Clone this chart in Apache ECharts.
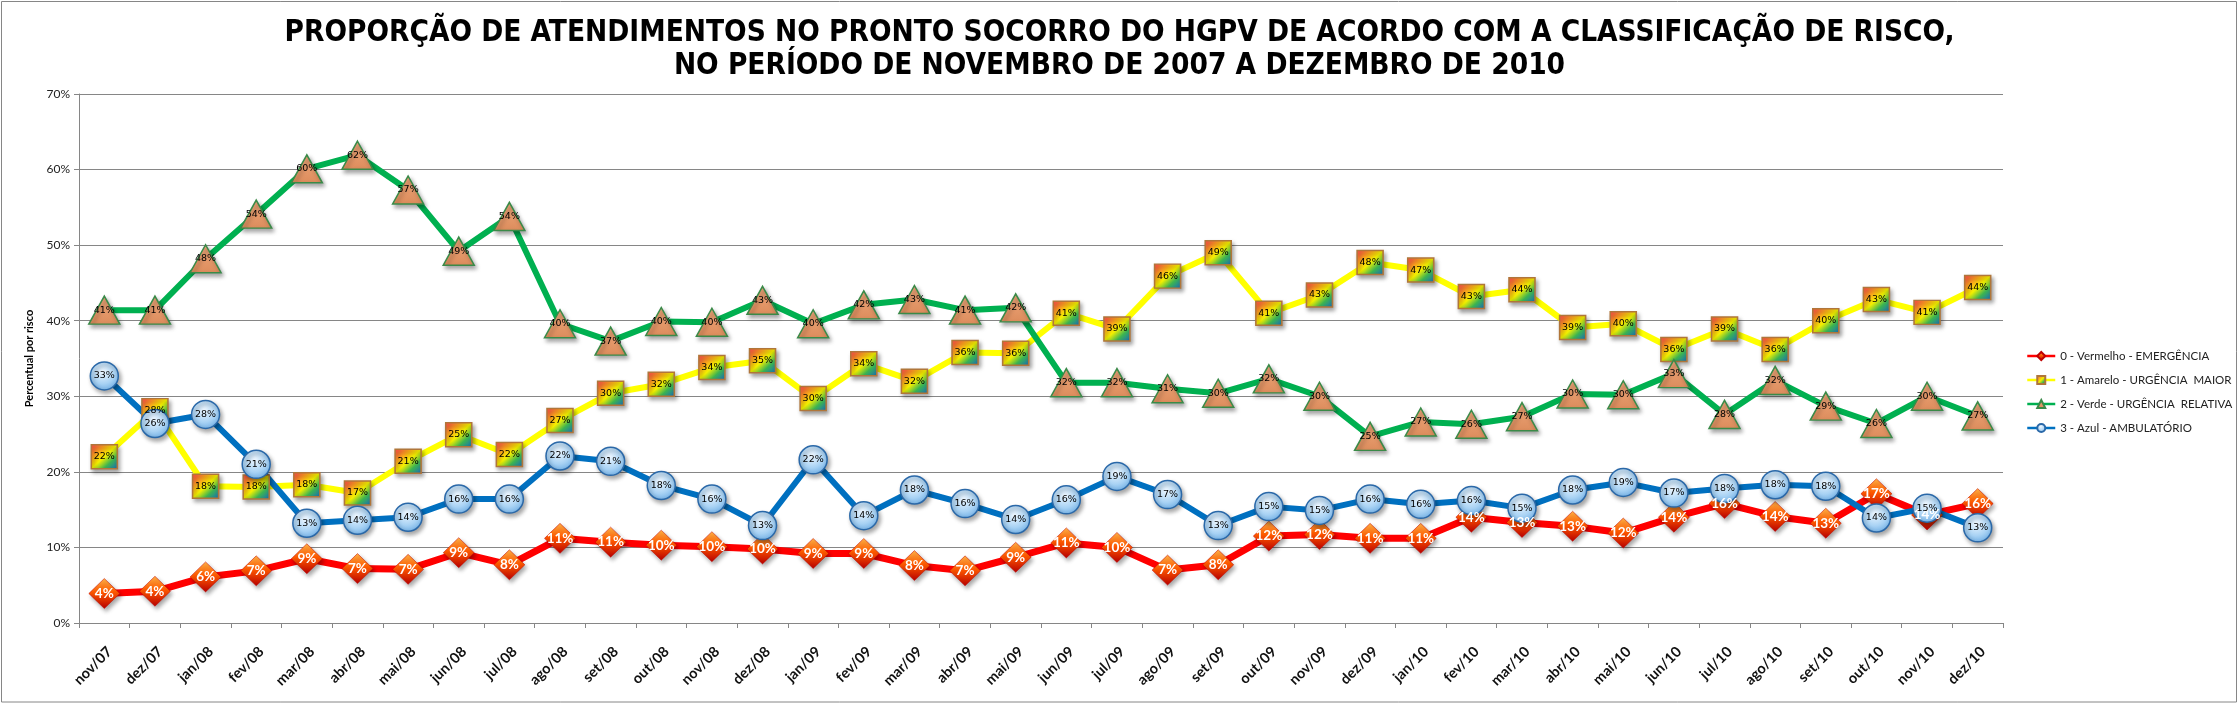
<!DOCTYPE html>
<html>
<head>
<meta charset="utf-8">
<script src="https://cdn.jsdelivr.net/npm/echarts@6/dist/echarts.min.js"></script>
<style>
  html, body { margin: 0; padding: 0; background: #fff; }
  #chart { width: 2239px; height: 704px; }
</style>
</head>
<body>
<div id="chart"></div>
<script>
// meses de nov/07 a dez/10
const categories = [
  'nov/07','dez/07',
  'jan/08','fev/08','mar/08','abr/08','mai/08','jun/08','jul/08','ago/08','set/08','out/08','nov/08','dez/08',
  'jan/09','fev/09','mar/09','abr/09','mai/09','jun/09','jul/09','ago/09','set/09','out/09','nov/09','dez/09',
  'jan/10','fev/10','mar/10','abr/10','mai/10','jun/10','jul/10','ago/10','set/10','out/10','nov/10','dez/10'
];

// percentuais por classificação de risco
const vermelho = [3.9,4.2,6.1,6.9,8.5,7.2,7.1,9.3,7.7,11.2, 10.7,10.3,10.1,9.8,9.2,9.2,7.6,6.9,8.7,10.6,
  10.0,7.0,7.7,11.5,11.7,11.2,11.2,14.0,13.3,12.8,11.9, 14.0,15.8,14.1,13.2,17.1,14.3,15.8];
const amarelo = [22.0,28.1,18.1,18.0,18.3,17.2,21.4,24.9,22.3,26.8, 30.4,31.6,33.8,34.7,29.7,34.3,32.0,35.8,35.7,41.0,
  38.9,45.9,49.0,41.0,43.4,47.7,46.7,43.2,44.1,39.1,39.6, 36.2,38.9,36.2,40.0,42.8,41.1,44.4];
const verde = [41.4,41.4,48.2,54.1,60.1,61.9,57.3,49.2,53.8,39.6, 37.3,39.9,39.8,42.7,39.6,42.1,42.8,41.4,41.7,31.8,
  31.8,31.0,30.4,32.3,30.0,24.7,26.6,26.3,27.3,30.3,30.2, 33.0,27.6,32.1,28.7,26.4,30.0,27.4];
const azul = [32.7,26.4,27.6,21.0,13.2,13.6,14.0,16.4,16.4,22.1, 21.4,18.2,16.4,12.9,21.6,14.2,17.6,15.8,13.7,16.3,
  19.4,17.0,12.9,15.4,14.9,16.4,15.7,16.2,15.2,17.6,18.6, 17.2,17.8,18.3,18.1,13.9,15.2,12.6];

const seriesNames = [
  '0 - Vermelho - EMERGÊNCIA',
  '1 - Amarelo - URGÊNCIA  MAIOR',
  '2 - Verde - URGÊNCIA  RELATIVA',
  '3 - Azul - AMBULATÓRIO'
];

// eixo Y: 0% a 70%
const yMin = 0, yMax = 70, yStep = 10;

const chart = echarts.init(document.getElementById('chart'));

const shadow = {
  shadowColor: 'rgba(0,0,0,0.35)',
  shadowBlur: 4,
  shadowOffsetX: 2,
  shadowOffsetY: 3
};

const pct = (p) => Math.round(p.value) + '%';

const smallLabel = {
  show: true,
  position: 'inside',
  formatter: pct,
  fontFamily: 'DejaVu Sans',
  fontSize: 9.5,
  color: '#000'
};

const option = {
  backgroundColor: '#fff',
  animation: false,
  title: {
    text: 'PROPORÇÃO DE ATENDIMENTOS NO PRONTO SOCORRO DO HGPV DE ACORDO COM A CLASSIFICAÇÃO DE RISCO,\nNO PERÍODO DE NOVEMBRO DE 2007 A DEZEMBRO DE 2010',
    left: 'center',
    top: 12,
    textStyle: {
      fontFamily: '"Liberation Sans Narrow", "DejaVu Sans Condensed", sans-serif',
      fontWeight: 'bold',
      fontSize: 29.5,
      lineHeight: 33,
      color: '#000',
      align: 'center'
    }
  },
  graphic: [{
    type: 'rect',
    silent: true,
    z: -1,
    shape: { x: 1.5, y: 1.5, width: 2235, height: 700.5 },
    style: { fill: 'none', stroke: '#868686', lineWidth: 1 }
  }],
  legend: {
    orient: 'vertical',
    left: 2021,
    top: 345,
    itemWidth: 28,
    itemHeight: 10,
    itemGap: 12,
    data: seriesNames,
    lineStyle: { width: 2.5 },
    textStyle: { fontFamily: 'Lato', fontSize: 11.5, color: '#222' }
  },
  grid: { left: 79, right: 236, top: 94, bottom: 81 },
  xAxis: {
    type: 'category',
    data: categories,
    boundaryGap: true,
    axisLine: { lineStyle: { color: '#868686', width: 1 } },
    axisTick: { show: true, length: 5, lineStyle: { color: '#868686' } },
    axisLabel: {
      interval: 0,
      rotate: 45,
      margin: 21,
      verticalAlign: 'top',
      fontFamily: 'Lato',
      fontWeight: 'bold',
      fontSize: 14.5,
      color: '#111'
    }
  },
  yAxis: {
    type: 'value',
    min: yMin,
    max: yMax,
    interval: yStep,
    name: 'Percentual por risco',
    nameLocation: 'middle',
    nameRotate: 90,
    nameGap: 44,
    nameTextStyle: { fontFamily: 'Lato', fontWeight: 'bold', fontSize: 11, color: '#000' },
    axisLine: { show: true, lineStyle: { color: '#868686', width: 1 } },
    axisTick: { show: true, length: 5, lineStyle: { color: '#868686' } },
    splitLine: { lineStyle: { color: '#868686', width: 1 } },
    axisLabel: {
      margin: 9,
      formatter: (v) => v + '%',
      fontFamily: 'Lato',
      fontSize: 12,
      color: '#222'
    }
  },
  series: [
    {
      name: seriesNames[0],
      type: 'line',
      data: vermelho,
      symbol: 'diamond',
      symbolSize: [31, 30],
      lineStyle: { color: '#ff0000', width: 7 },
      itemStyle: Object.assign({
        color: new echarts.graphic.LinearGradient(0, 0, 0, 1, [
          { offset: 0, color: '#ffb347' },
          { offset: 0.45, color: '#ff5a00' },
          { offset: 1, color: '#b80000' }
        ]),
        borderColor: '#c00000',
        borderWidth: 0.5
      }, shadow),
      label: {
        show: true,
        position: 'inside',
        formatter: pct,
        fontFamily: 'Lato',
        fontWeight: 'bold',
        fontSize: 13.5,
        color: '#fff'
      }
    },
    {
      name: seriesNames[1],
      type: 'line',
      data: amarelo,
      symbol: 'rect',
      symbolSize: [26, 24],
      lineStyle: { color: '#ffff00', width: 6 },
      itemStyle: Object.assign({
        color: new echarts.graphic.LinearGradient(0, 0, 1, 1, [
          { offset: 0, color: '#ff3c50' },
          { offset: 0.28, color: '#ffa020' },
          { offset: 0.5, color: '#f4f000' },
          { offset: 0.72, color: '#3cb450' },
          { offset: 1, color: '#1464c8' }
        ]),
        borderColor: '#b0763a',
        borderWidth: 1.5
      }, shadow),
      label: smallLabel
    },
    {
      name: seriesNames[2],
      type: 'line',
      data: verde,
      symbol: 'triangle',
      symbolSize: [31, 28],
      lineStyle: { color: '#00b050', width: 6 },
      itemStyle: Object.assign({
        color: new echarts.graphic.LinearGradient(0, 0, 0, 1, [
          { offset: 0, color: '#eea77a' },
          { offset: 1, color: '#dc8c5c' }
        ]),
        borderColor: '#3a8a48',
        borderWidth: 1.5
      }, shadow),
      label: smallLabel
    },
    {
      name: seriesNames[3],
      type: 'line',
      data: azul,
      symbol: 'circle',
      symbolSize: 28,
      lineStyle: { color: '#0070c0', width: 6 },
      itemStyle: Object.assign({
        color: new echarts.graphic.RadialGradient(0.45, 0.35, 0.7, [
          { offset: 0, color: '#eef7ff' },
          { offset: 0.6, color: '#a8d2f4' },
          { offset: 1, color: '#6aaae2' }
        ]),
        borderColor: '#2a68a8',
        borderWidth: 1.5
      }, shadow),
      label: smallLabel
    }
  ]
};

chart.setOption(option);
</script>
</body>
</html>
